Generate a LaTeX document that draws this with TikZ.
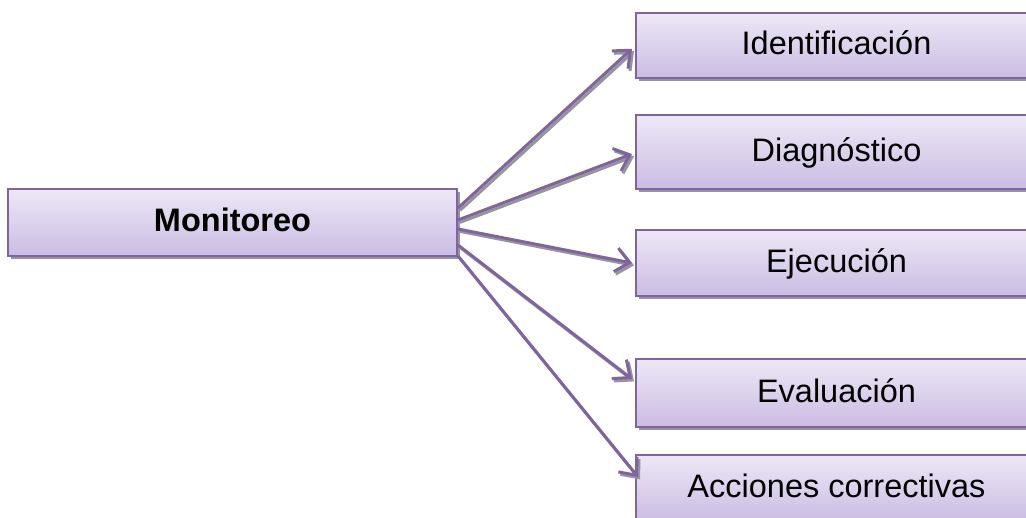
\documentclass[tikz,border=0pt]{standalone}
\usepackage{fontspec}
\setmainfont{Liberation Sans}
\usetikzlibrary{arrows.meta,shadows}
\definecolor{boxline}{RGB}{128,100,162}
\definecolor{boxtop}{RGB}{237,232,246}
\definecolor{boxbot}{RGB}{202,188,227}
\definecolor{shade}{RGB}{150,150,150}
\tikzset{
  box/.style={draw=boxline, line width=2pt, top color=boxtop, bottom color=boxbot,
    drop shadow={shadow xshift=3pt, shadow yshift=-3pt, fill=shade, opacity=1},
    inner sep=0pt, font=\fontsize{32.5}{38}\selectfont, text height=23.5pt, text depth=5pt},
  leftbox/.style={box, minimum width=449pt},
  rightbox/.style={box, minimum width=401pt},
  link/.style={draw=boxline, line width=3pt,
    -{Straight Barb[length=14pt, width=24pt, line width=3pt]}},
  linkshadow/.style={draw=shade, line width=3pt,
    -{Straight Barb[length=14pt, width=24pt, line width=3pt]},
    transform canvas={shift={(2pt,-2.4pt)}}}
}
\begin{document}
\begin{tikzpicture}[x=1pt, y=-1pt]
  \useasboundingbox (0,0) rectangle (1026,518);
  \begin{scope}
    \clip (0,0) rectangle (1026,518);
    % central activity
    \node[leftbox, minimum height=67pt] (m) at (232.5,222.5) {\bfseries Monitoreo};
    % stages of the process
    \node[rightbox, minimum height=65.5pt] (a) at (836.5,45.75) {Identificación};
    \node[rightbox, minimum height=74pt]   (b) at (836.5,152.5) {Diagnóstico};
    \node[rightbox, minimum height=66pt]   (c) at (836.5,263)   {Ejecución};
    \node[rightbox, minimum height=68pt]   (d) at (836.5,393)   {Evaluación};
    \node[rightbox, minimum height=66pt]   (e) at (836.5,488)   {Acciones correctivas};
    % connector end points
    \coordinate (ma) at ([yshift=14.5pt]m.east);
    \coordinate (mb) at ([yshift=2.5pt]m.east);
    \coordinate (mc) at ([yshift=-6.5pt]m.east);
    \coordinate (md) at ([yshift=-22.5pt]m.east);
    \coordinate (me) at ([yshift=-33.5pt]m.east);
    \coordinate (ta) at ([xshift=-3pt,yshift=-3pt]a.west);
    \coordinate (tb) at ([xshift=-3pt,yshift=-1.5pt]b.west);
    \coordinate (tc) at ([xshift=-3pt]c.west);
    \coordinate (td) at ([xshift=-3pt,yshift=14pt]d.west);
    \coordinate (te) at ([xshift=3pt,yshift=11pt]e.west);
    % shadows of the connectors
    \foreach \s/\t in {ma/ta, mb/tb, mc/tc, md/td, me/te}
      \draw[linkshadow] (\s) -- (\t);
    % connectors
    \foreach \s/\t in {ma/ta, mb/tb, mc/tc, md/td, me/te}
      \draw[link] (\s) -- (\t);
  \end{scope}
\end{tikzpicture}
\end{document}
